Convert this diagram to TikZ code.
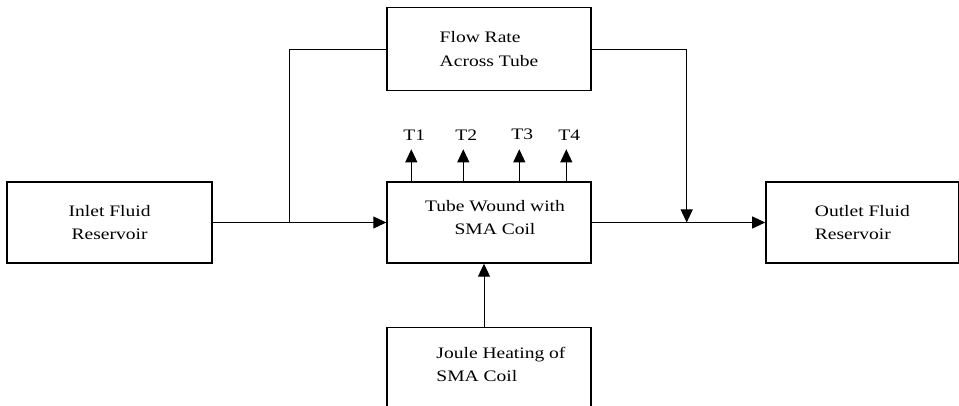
\documentclass[tikz,border=0pt]{standalone}
\usepackage{fontspec}
\setmainfont{Liberation Serif}[FakeStretch=1.22]
\usetikzlibrary{arrows.meta, matrix, positioning}
\tikzstyle{block} = [rectangle, draw=black, line width=1.4pt, minimum width=204pt, minimum height=81pt, inner sep=0pt, font=\fontsize{16}{23.5}\selectfont]
\tikzstyle{raised} = [text height=37pt, text depth=12pt]
\tikzstyle{probe_label} = [inner sep=0pt, font=\fontsize{16}{18}\selectfont]
\tikzstyle{flow_line} = [line width=1pt, black, -{Triangle[length=13pt, width=12pt]}]
\tikzstyle{plain_line} = [line width=1pt, black]

\begin{document}
\begin{tikzpicture}[x=1pt, y=1pt]

    \useasboundingbox (0,0) rectangle (959,406);
    \clip (0,0) rectangle (959,406);

    \matrix [column sep=173.5pt, row sep=0pt, matrix anchor=tube.center] at (489,183.5) {
        & \node (rate) [block, minimum height=83pt, align=left] {Flow Rate\\Across Tube}; & \\[90pt]

        \node (inlet) [block, minimum width=205pt, align=center] {Inlet Fluid\\Reservoir}; &
        \node (tube) [block, raised, align=center] {\hspace*{12pt}Tube Wound with\\\hspace*{12pt}SMA Coil}; &
        \node (outlet) [block, minimum width=193pt, align=left] {Outlet Fluid\\Reservoir}; \\[63pt]

        & \node (joule) [block, raised, minimum height=84pt, align=left] {\hspace*{24pt}Joule Heating of\\\hspace*{24pt}SMA Coil}; & \\
    };

    % Branch and merge points on the main line
    \coordinate [right=77pt of inlet.east] (split);
    \coordinate [right=95pt of tube.east] (merge);

    \draw [flow_line] (inlet) -- (tube);
    \draw [plain_line] (rate.west) -| (split);
    \draw [flow_line] (tube) -- (outlet);
    \draw [flow_line] (rate.east) -| (merge);
    \draw [flow_line] ([xshift=-5pt]joule.north) -- ([xshift=-5pt]tube.south);

    % Temperature probes
    \foreach \i/\dx in {1/25, 2/77, 3/133, 4/180} {
        \coordinate (probe\i) at ([xshift=\dx pt]tube.north west);
        \node (temp\i) [probe_label, above=41pt of probe\i, xshift=3pt] {T\i};
        \draw [flow_line, shorten >=9pt] (probe\i) -- (probe\i |- temp\i.south);
    }

\end{tikzpicture}
\end{document}
